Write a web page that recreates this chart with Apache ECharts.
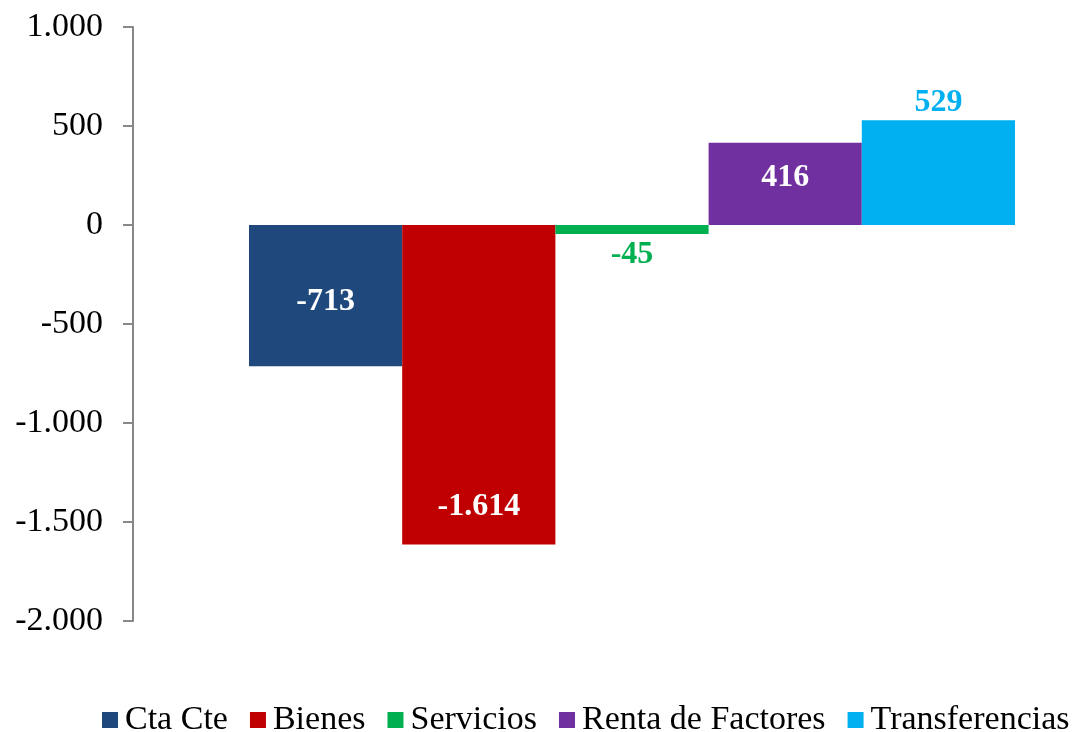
<!DOCTYPE html>
<html>
<head>
<meta charset="utf-8">
<script src="https://cdn.jsdelivr.net/npm/echarts@6/dist/echarts.min.js"></script>
<style>html,body{margin:0;padding:0;background:#fff;}#c{width:1081px;height:732px;}</style>
</head>
<body>
<div id="c"></div>
<script>
const seriesNames = ['Cta Cte', 'Bienes', 'Servicios', 'Renta de Factores', 'Transferencias'];
const seriesValues = [-713, -1614, -45, 416, 529];
const yTicks = [-2000, -1500, -1000, -500, 0, 500, 1000];

const colors = ['#1F497D', '#C00000', '#00B050', '#7030A0', '#00B0F0'];
const labelColors = ['#ffffff', '#ffffff', '#00B050', '#ffffff', '#00B0F0'];
const labelPos = ['inside', 'insideBottom', 'bottom', 'inside', 'top'];
const labelDist = [5, 22, 5, 5, 3];
const labelOffset = [[0, 6], [0, 0], [0, 0], [0, -6], [0, 1]];

function fmt(v) {
  const s = Math.abs(v).toString().replace(/\B(?=(\d{3})+(?!\d))/g, '.');
  return (v < 0 ? '-' : '') + s;
}

const chart = echarts.init(document.getElementById('c'));
const serif = '"Liberation Serif", "Times New Roman", serif';
chart.setOption({
  animation: false,
  backgroundColor: '#ffffff',
  grid: { left: 183, top: 27, right: 0, bottom: 111, containLabel: false },
  legend: {
    data: seriesNames,
    left: 102, top: 703, padding: 0,
    icon: 'rect', itemWidth: 16, itemHeight: 16, itemGap: 22,
    textStyle: { fontFamily: serif, fontSize: 34, color: '#000', padding: [0, 0, 0, 2] }
  },
  xAxis: {
    type: 'category', data: [''],
    axisLine: { show: false }, axisTick: { show: false }, axisLabel: { show: false }
  },
  yAxis: {
    type: 'value', min: yTicks[0], max: yTicks[yTicks.length - 1], interval: 500,
    offset: 50,
    axisLine: { show: true, lineStyle: { color: '#888888', width: 2 } },
    axisTick: { show: true, length: 10, lineStyle: { color: '#888888', width: 2 } },
    splitLine: { show: false },
    axisLabel: { fontFamily: serif, fontSize: 34, color: '#000', margin: 30, formatter: fmt }
  },
  series: seriesNames.map((n, i) => ({
    name: n, type: 'bar', data: [seriesValues[i]],
    barWidth: 153.2, barGap: '0%',
    itemStyle: { color: colors[i] },
    label: {
      show: true, position: labelPos[i], distance: labelDist[i], offset: labelOffset[i],
      fontFamily: serif, fontSize: 32, fontWeight: 'bold', color: labelColors[i],
      formatter: p => fmt(p.value)
    }
  }))
});
</script>
</body>
</html>
